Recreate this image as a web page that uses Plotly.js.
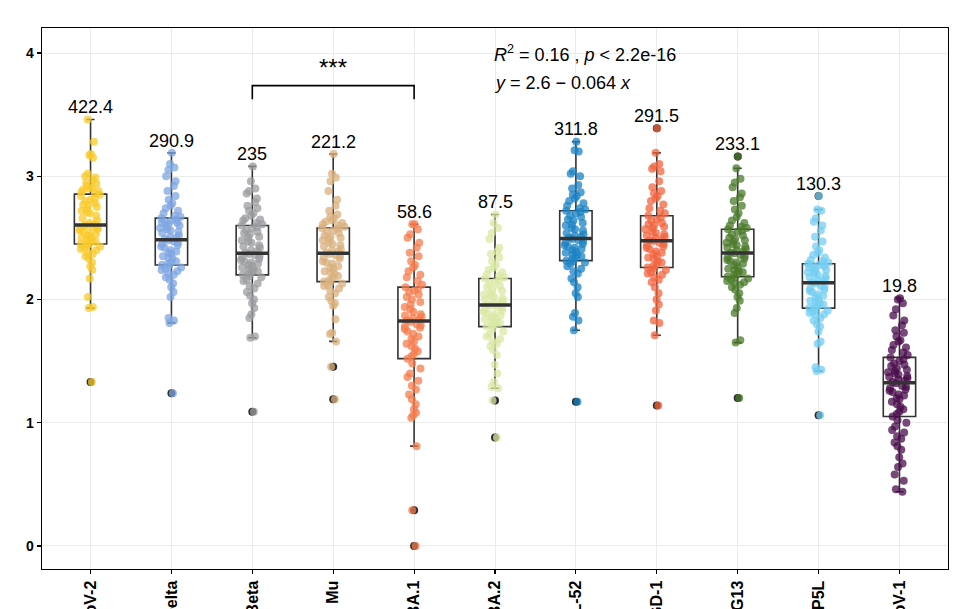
<!DOCTYPE html>
<html>
<head>
<meta charset="utf-8">
<script src="https://cdn.plot.ly/plotly-3.0.1.min.js"></script>
<style>html,body{margin:0;padding:0;background:#fff;}#chart{width:975px;height:609px;}</style>
</head>
<body>
<div id="chart"></div>
<script>
const categories = ["SARS-CoV-2","Delta","Beta","Mu","BA.1","BA.2","BANAL-52","Pangolin-GD-1","RaTG13","Pangolin-GX-P5L","SARS-CoV-1"];
const colors = ["#F8C92A","#7EA6E2","#9A9C9F","#D9B07E","#F67C4C","#D9E8A4","#1B83C4","#F2663F","#4B7B2B","#74CDF2","#4A0C4B"];
const valueLabels = ["422.4","290.9","235","221.2","58.6","87.5","311.8","291.5","233.1","130.3","19.8"];

const g1 = [1.33,1.93,1.94,2.02,2.17,2.24,2.27,2.30,2.33,2.35,2.37,2.38,2.40,2.41,2.42,2.43,2.44,2.45,
  2.45,2.46,2.47,2.48,2.49,2.50,2.51,2.52,2.53,2.54,2.55,2.56,2.57,2.57,2.58,2.59,2.60,2.60,
  2.61,2.62,2.64,2.66,2.68,2.70,2.71,2.72,2.73,2.75,2.76,2.77,2.78,2.80,2.81,2.82,2.84,2.85,
  2.86,2.87,2.88,2.89,2.90,2.91,2.92,2.94,2.95,2.97,2.99,3.00,3.02,3.15,3.17,3.18,3.28,3.46];
const g2 = [1.24,1.81,1.83,1.85,2.02,2.06,2.10,2.13,2.16,2.18,2.20,2.21,2.23,2.24,2.25,2.26,2.27,2.28,
  2.29,2.30,2.31,2.33,2.34,2.35,2.37,2.38,2.39,2.40,2.42,2.43,2.44,2.45,2.46,2.47,2.48,
  2.49,2.50,2.51,2.52,2.54,2.55,2.56,2.57,2.58,2.59,2.60,2.61,2.62,2.62,2.63,2.64,2.65,
  2.66,2.67,2.68,2.70,2.72,2.74,2.76,2.78,2.81,2.84,2.88,2.92,2.96,3.00,3.05,3.07,3.10,3.19];
const g3 = [1.09,1.69,1.70,1.85,1.88,1.93,1.97,2.00,2.03,2.06,2.09,2.11,2.13,2.15,2.16,2.18,2.19,2.20,
  2.21,2.22,2.23,2.24,2.25,2.26,2.27,2.28,2.29,2.30,2.31,2.32,2.33,2.34,2.35,2.36,2.37,
  2.38,2.39,2.40,2.42,2.43,2.44,2.46,2.47,2.48,2.50,2.51,2.53,2.54,2.55,2.56,2.58,2.59,
  2.60,2.61,2.62,2.64,2.65,2.66,2.68,2.70,2.72,2.74,2.76,2.79,2.82,2.86,2.88,2.90,2.96,3.08];
const g4 = [1.19,1.455,1.66,1.72,1.73,1.84,1.95,1.97,1.99,2.02,2.05,2.07,2.09,2.11,2.12,2.13,2.14,2.145,
  2.16,2.18,2.19,2.21,2.22,2.23,2.25,2.26,2.27,2.29,2.30,2.31,2.33,2.34,2.35,2.36,2.37,
  2.38,2.39,2.40,2.41,2.43,2.44,2.45,2.46,2.48,2.49,2.50,2.51,2.52,2.54,2.55,2.56,2.575,
  2.58,2.59,2.60,2.61,2.62,2.63,2.64,2.66,2.67,2.69,2.72,2.76,2.81,2.88,2.96,2.99,3.02,3.18];
const g5 = [0.00,0.29,0.81,1.04,1.06,1.08,1.11,1.15,1.19,1.23,1.27,1.30,1.34,1.37,1.40,1.44,1.48,1.52,
  1.54,1.56,1.58,1.60,1.62,1.64,1.66,1.68,1.70,1.72,1.74,1.76,1.77,1.78,1.79,1.80,1.82,
  1.83,1.84,1.85,1.86,1.87,1.88,1.90,1.92,1.94,1.96,1.98,2.00,2.02,2.04,2.06,2.07,2.085,
  2.10,2.12,2.15,2.18,2.20,2.23,2.26,2.28,2.31,2.35,2.38,2.42,2.46,2.50,2.53,2.57,2.61,2.61];
const g6 = [0.88,1.18,1.28,1.29,1.33,1.40,1.47,1.55,1.59,1.62,1.64,1.66,1.68,1.70,1.72,1.74,1.76,1.78,
  1.79,1.80,1.81,1.82,1.83,1.84,1.85,1.86,1.87,1.88,1.89,1.90,1.91,1.92,1.93,1.94,1.95,
  1.96,1.97,1.98,1.99,2.00,2.01,2.02,2.03,2.04,2.05,2.07,2.08,2.10,2.11,2.13,2.14,2.16,
  2.17,2.18,2.19,2.20,2.22,2.24,2.26,2.28,2.31,2.34,2.37,2.39,2.42,2.49,2.54,2.58,2.62,2.69];
const g7 = [1.17,1.75,1.83,1.86,1.89,2.02,2.05,2.10,2.14,2.17,2.21,2.23,2.25,2.27,2.29,2.30,2.31,2.315,
  2.33,2.34,2.35,2.36,2.37,2.38,2.39,2.40,2.41,2.42,2.43,2.44,2.45,2.46,2.47,2.48,2.49,
  2.50,2.51,2.52,2.53,2.54,2.56,2.57,2.58,2.60,2.61,2.62,2.64,2.65,2.67,2.68,2.70,2.71,
  2.72,2.73,2.74,2.76,2.78,2.80,2.82,2.84,2.85,2.87,2.90,2.93,3.00,3.02,3.04,3.20,3.21,3.28];
const g8 = [1.14,1.71,1.81,1.83,1.91,1.96,2.00,2.05,2.10,2.14,2.16,2.18,2.20,2.21,2.22,2.24,2.25,2.26,
  2.27,2.29,2.30,2.31,2.33,2.34,2.35,2.37,2.38,2.39,2.41,2.42,2.43,2.44,2.45,2.46,2.475,
  2.48,2.49,2.50,2.51,2.52,2.53,2.54,2.55,2.57,2.58,2.59,2.60,2.61,2.62,2.64,2.65,2.665,
  2.68,2.70,2.72,2.74,2.77,2.80,2.82,2.84,2.86,2.88,2.91,2.96,3.04,3.06,3.08,3.10,3.19,3.39];
const g9 = [1.20,1.65,1.67,1.89,1.93,1.99,2.02,2.05,2.08,2.10,2.12,2.13,2.14,2.15,2.16,2.17,2.18,2.185,
  2.20,2.21,2.22,2.23,2.24,2.25,2.26,2.28,2.29,2.30,2.31,2.32,2.33,2.34,2.35,2.36,2.375,
  2.38,2.39,2.40,2.41,2.42,2.43,2.44,2.45,2.46,2.47,2.48,2.49,2.50,2.52,2.53,2.55,2.56,
  2.57,2.58,2.59,2.60,2.62,2.64,2.67,2.70,2.73,2.76,2.80,2.83,2.86,2.91,2.95,2.98,3.065,3.16];
const g10 = [1.06,1.42,1.43,1.45,1.64,1.66,1.74,1.78,1.80,1.83,1.85,1.87,1.88,1.89,1.90,1.91,1.92,1.93,
  1.94,1.95,1.96,1.97,1.98,1.99,2.00,2.02,2.03,2.04,2.06,2.07,2.08,2.09,2.10,2.11,2.13,
  2.14,2.15,2.16,2.17,2.18,2.19,2.20,2.21,2.22,2.23,2.24,2.25,2.26,2.27,2.28,2.28,2.285,
  2.29,2.30,2.31,2.32,2.34,2.36,2.38,2.40,2.43,2.47,2.51,2.56,2.60,2.63,2.66,2.72,2.73,2.84];
const g11 = [0.44,0.46,0.53,0.58,0.64,0.67,0.72,0.78,0.81,0.84,0.87,0.89,0.92,0.94,0.97,1.00,1.02,1.05,
  1.07,1.09,1.11,1.13,1.15,1.17,1.19,1.20,1.22,1.23,1.25,1.26,1.27,1.28,1.29,1.30,1.32,
  1.33,1.34,1.35,1.36,1.37,1.38,1.39,1.40,1.41,1.42,1.43,1.44,1.46,1.47,1.48,1.50,1.515,
  1.53,1.55,1.57,1.59,1.61,1.63,1.66,1.67,1.70,1.73,1.75,1.79,1.83,1.87,1.92,1.97,2.00,2.01];
const groups = [g1,g2,g3,g4,g5,g6,g7,g8,g9,g10,g11];

const sigCompare = {from: 3, to: 5, y: 3.735, legEnd: 3.625, label: "***", labelY: 3.88};
const regLines = ["<i>R</i><sup>2</sup> = 0.16 , <i>p</i> &lt; 2.2e-16", "<i>y</i> = 2.6 \u2212 0.064 <i>x</i>"];
const regY = [4.0, 3.76];
const regX = 5.96;

const BOXW = 0.4;
const FONT = "Arial, 'Liberation Sans', sans-serif";

function median(a){const s=[...a].sort((p,q)=>p-q);const n=s.length;return n%2?s[(n-1)/2]:(s[n/2-1]+s[n/2])/2;}

const traces = [];
groups.forEach((g,i)=>{
  const xpos = i+1;
  traces.push({type:'box', y:g, x0:xpos, width:BOXW, boxpoints:'outliers', jitter:0, pointpos:0,
    marker:{color:'#2b2b2b', size:8, opacity:1}, line:{width:0, color:'rgba(0,0,0,0)'},
    fillcolor:'rgba(0,0,0,0)', whiskerwidth:0, hoverinfo:'skip', showlegend:false, quartilemethod:'linear'});
  traces.push({type:'box', y:g, x0:xpos, width:BOXW, boxpoints:'all', jitter:0.75, pointpos:0,
    marker:{color:colors[i], size:8, opacity:0.75}, line:{width:1.6, color:'#333333'},
    fillcolor:'rgba(255,255,255,0)', whiskerwidth:0.25, showlegend:false, quartilemethod:'linear', name:categories[i]});
});
const mx=[], my=[];
groups.forEach((g,i)=>{const m=median(g); mx.push(i+1-BOXW/2, i+1+BOXW/2, null); my.push(m,m,null);});
traces.push({type:'scatter', mode:'lines', x:mx, y:my, line:{color:'#333333', width:3.5}, hoverinfo:'skip', showlegend:false});
traces.push({type:'scatter', mode:'lines',
  x:[sigCompare.from, sigCompare.from, sigCompare.to, sigCompare.to],
  y:[sigCompare.legEnd, sigCompare.y, sigCompare.y, sigCompare.legEnd],
  line:{color:'#000', width:1.6}, hoverinfo:'skip', showlegend:false});

const annotations = [];
groups.forEach((g,i)=>{
  annotations.push({x:i+1, y:Math.max(...g)+0.1, text:valueLabels[i], showarrow:false, xanchor:'center', yanchor:'middle',
    font:{family:FONT, size:18, color:'#000'}});
});
annotations.push({x:(sigCompare.from+sigCompare.to)/2, y:sigCompare.labelY, text:sigCompare.label, showarrow:false,
  xanchor:'center', yanchor:'middle', font:{family:FONT, size:24, color:'#000'}});
regLines.forEach((t,k)=>{
  annotations.push({x:regX, y:regY[k], text:t, showarrow:false, xanchor:'left', yanchor:'middle',
    font:{family:FONT, size:18, color:'#000'}});
});

const layout = {
  width:975, height:609,
  margin:{l:42, r:27, t:28, b:40},
  paper_bgcolor:'#fff', plot_bgcolor:'#fff',
  boxmode:'overlay', showlegend:false,
  xaxis:{range:[0.4, 11.6], tickmode:'array', tickvals:categories.map((c,i)=>i+1), ticktext:categories,
    tickangle:-90, tickfont:{family:FONT, size:16, color:'#000', weight:'bold'},
    showgrid:true, gridcolor:'#EBEBEB', gridwidth:1, zeroline:false,
    showline:true, mirror:true, linecolor:'#000', linewidth:1.3,
    ticks:'outside', ticklen:4, tickcolor:'#000', tickwidth:1.2},
  yaxis:{range:[-0.187, 4.203], tickmode:'array', tickvals:[0,1,2,3,4], ticktext:['0','1','2','3','4'],
    tickfont:{family:FONT, size:14, color:'#000', weight:'bold'},
    showgrid:true, gridcolor:'#EBEBEB', gridwidth:1, zeroline:false,
    showline:true, mirror:true, linecolor:'#000', linewidth:1.3,
    ticks:'outside', ticklen:4, tickcolor:'#000', tickwidth:1.2},
  annotations:annotations
};
Plotly.newPlot('chart', traces, layout, {displayModeBar:false, staticPlot:true});
</script>
</body>
</html>
